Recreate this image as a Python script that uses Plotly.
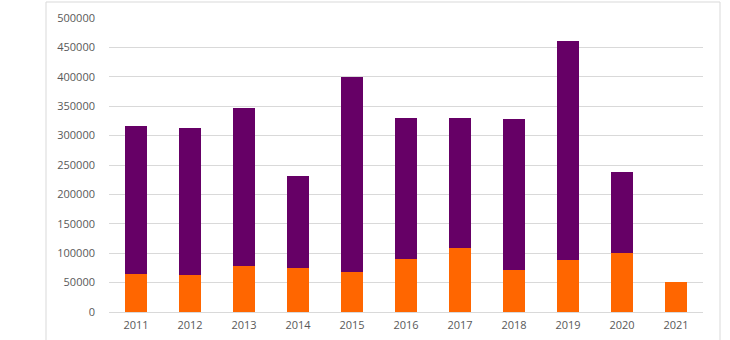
import plotly.graph_objects as go

years = ["2011", "2012", "2013", "2014", "2015", "2016", "2017", "2018", "2019", "2020", "2021"]
orange_vals = [64600, 62900, 78700, 74300, 68500, 90100, 108300, 71400, 89000, 100300, 50500]
purple_vals = [252400, 249600, 268800, 157500, 331700, 239300, 221100, 256300, 372400, 138300, 0]
y_ticks = [0, 50000, 100000, 150000, 200000, 250000, 300000, 350000, 400000, 450000, 500000]

W, H = 730, 340
L, R, T, B = 109, 27, 18, 28
pw, ph = W - L - R, H - T - B

fig = go.Figure()
fig.add_trace(go.Bar(x=years, y=orange_vals, marker=dict(color="#FF6600", line=dict(width=0)), name="A"))
fig.add_trace(go.Bar(x=years, y=purple_vals, marker=dict(color="#660066", line=dict(width=0)), name="B"))

fig.update_layout(
    width=W, height=H,
    margin=dict(l=L, r=R, t=T, b=B, autoexpand=False),
    barmode="stack",
    bargap=0.61,
    showlegend=False,
    plot_bgcolor="white",
    paper_bgcolor="white",
    font=dict(family="Open Sans, Liberation Sans, sans-serif", size=11, color="#595959"),
    xaxis=dict(showgrid=False, showline=False, ticks="", ticklabelstandoff=5, automargin=False,
               tickfont=dict(size=11, color="#595959")),
    yaxis=dict(range=[0, 500000], tickvals=y_ticks, ticktext=[str(v) for v in y_ticks],
               showgrid=True, gridcolor="#D9D9D9", gridwidth=1, zeroline=True, zerolinecolor="#D9D9D9",
               zerolinewidth=1, showline=False, ticks="", ticklabelstandoff=13, automargin=False,
               tickfont=dict(size=11, color="#595959")),
    shapes=[dict(type="rect", xref="paper", yref="paper",
                 x0=(46 - L) / pw, x1=(720 - L) / pw,
                 y0=-(H - T - ph + 10) / ph, y1=(H - B - 2) / ph,
                 line=dict(color="#D9D9D9", width=1), fillcolor="rgba(0,0,0,0)", layer="below")],
)

fig.write_html("out.html")
